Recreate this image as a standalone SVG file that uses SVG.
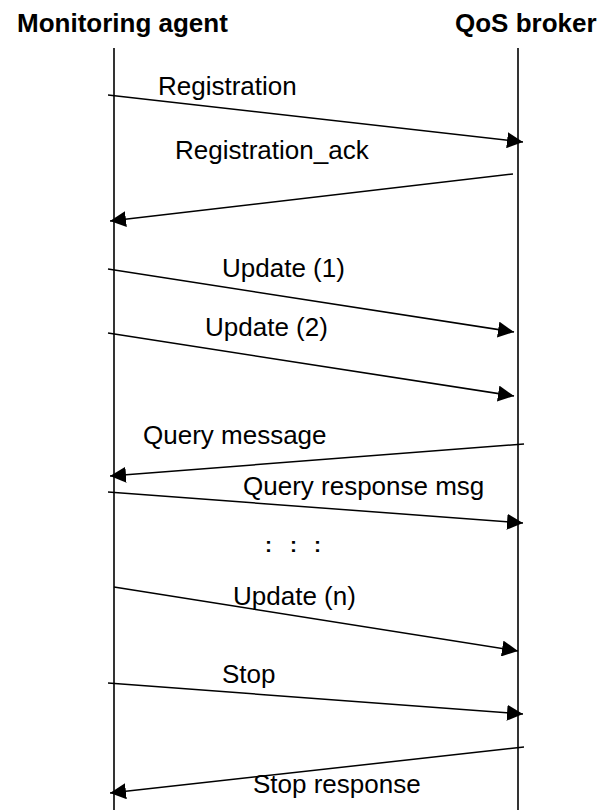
<svg xmlns="http://www.w3.org/2000/svg" width="602" height="810" viewBox="0 0 602 810">
  <style>
    .head { font-family: "Liberation Sans", Arial, sans-serif; font-size: 26px; font-weight: bold; fill: #000; }
    .lbl { font-family: "Liberation Sans", Arial, sans-serif; font-size: 26px; fill: #000; }
    .dots { font-family: "Liberation Sans", Arial, sans-serif; font-size: 21px; font-weight: bold; fill: #000; }
    .life { stroke: #000; stroke-width: 1.6; fill: none; }
    .msg { stroke: #000; stroke-width: 1.5; fill: none; marker-end: url(#head); }
  </style>
  <defs>
    <marker id="head" markerUnits="userSpaceOnUse" markerWidth="16" markerHeight="16" refX="16" refY="8" orient="auto">
      <path d="M0,0 L16,8 L0,16 Z" fill="#000"/>
    </marker>
  </defs>
  <rect width="602" height="810" fill="#fff"/>

  <!-- participants -->
  <g id="monitoring-agent">
    <text class="head" x="17" y="32">Monitoring agent</text>
    <line class="life" x1="114" y1="48" x2="114" y2="810"/>
  </g>
  <g id="qos-broker">
    <text class="head" x="455" y="32">QoS broker</text>
    <line class="life" x1="518" y1="48" x2="518" y2="810"/>
  </g>

  <!-- messages -->
  <g id="messages">
    <line class="msg" x1="108" y1="95" x2="523" y2="142"/>
    <line class="msg" x1="513" y1="174" x2="110" y2="221"/>
    <line class="msg" x1="108" y1="269" x2="514" y2="332"/>
    <line class="msg" x1="108" y1="333" x2="514" y2="396"/>
    <line class="msg" x1="524" y1="444" x2="110" y2="476"/>
    <line class="msg" x1="108" y1="492" x2="523" y2="523"/>
    <line class="msg" x1="114" y1="587" x2="518" y2="651"/>
    <line class="msg" x1="108" y1="683" x2="523" y2="714"/>
    <line class="msg" x1="524" y1="747" x2="110" y2="793"/>
  </g>

  <!-- message labels -->
  <g id="labels">
    <text class="lbl" x="158" y="95">Registration</text>
    <text class="lbl" x="175" y="159">Registration_ack</text>
    <text class="lbl" x="222" y="277">Update (1)</text>
    <text class="lbl" x="205" y="336">Update (2)</text>
    <text class="lbl" x="143" y="444">Query message</text>
    <text class="lbl" x="243" y="495">Query response msg</text>
    <text class="dots" x="265 290 314" y="552">:::</text>
    <text class="lbl" x="233" y="605">Update (n)</text>
    <text class="lbl" x="222" y="683">Stop</text>
    <text class="lbl" x="253" y="793">Stop response</text>
  </g>
</svg>
